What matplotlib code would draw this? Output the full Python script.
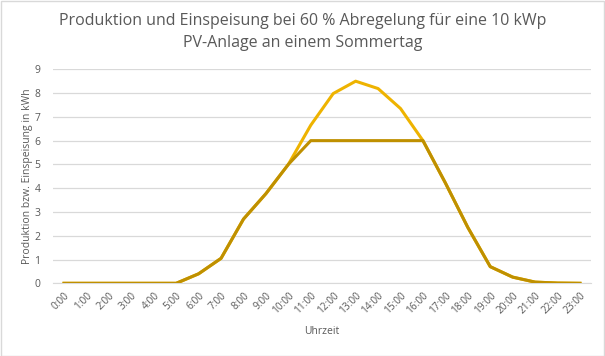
import matplotlib
matplotlib.use("Agg")
import matplotlib.pyplot as plt

hours = [f"{h}:00" for h in range(24)]
produktion = [0, 0, 0, 0, 0, 0, 0.4, 1.05, 2.7, 3.77, 5.0, 6.65, 7.98, 8.5, 8.19, 7.35,
              6.0, 4.22, 2.35, 0.7, 0.26, 0.05, 0.01, 0]
einspeisung = [min(v, 6.0) for v in produktion]

plt.rcParams['font.family'] = ['Open Sans', 'DejaVu Sans']

fig = plt.figure(figsize=(6.05, 3.56), dpi=100)
ax = fig.add_axes([52.8/605, 1-283.3/356, (591.2-52.8)/605, (283.3-69.3)/356])

x = list(range(len(hours)))
ax.plot(x, produktion, color="#EEB300", lw=2.2, solid_joinstyle="round", zorder=3)
ax.plot(x, einspeisung, color="#BF9000", lw=2.2, solid_joinstyle="round", zorder=4)

ax.set_xlim(-0.5, 23.5)
ax.set_ylim(0, 9)
ax.set_yticks(range(0, 10))
ax.set_xticks(x)
ax.set_xticklabels(hours, rotation=45, ha="right", rotation_mode="anchor")
ax.grid(axis="y", color="#D9D9D9", lw=0.9)
ax.set_axisbelow(True)
for s in ["top", "right", "left"]:
    ax.spines[s].set_visible(False)
ax.spines["bottom"].set_color("#D9D9D9")
ax.tick_params(axis="both", length=0, colors="#595959")
ax.tick_params(axis="x", pad=5, labelsize=7.3)
ax.tick_params(axis="y", pad=9, labelsize=7.5)

ax.set_ylabel("Produktion bzw. Einspeisung in kWh", color="#595959", fontsize=7.5, labelpad=1)
ax.set_xlabel("Uhrzeit", color="#595959", fontsize=7.5, labelpad=7)

fig.text(0.5, 1-32/356, "Produktion und Einspeisung bei 60 % Abregelung für eine 10 kWp\nPV-Anlage an einem Sommertag",
         ha="center", va="center", color="#595959", fontsize=11.5, linespacing=1.45)

border = plt.Rectangle((0.5/605, 0.5/356), 1-1.5/605, 1-1.5/356, transform=fig.transFigure,
                       fill=False, edgecolor="#D9D9D9", lw=1)
fig.patches.append(border)

fig.savefig("out.png", dpi=100)
